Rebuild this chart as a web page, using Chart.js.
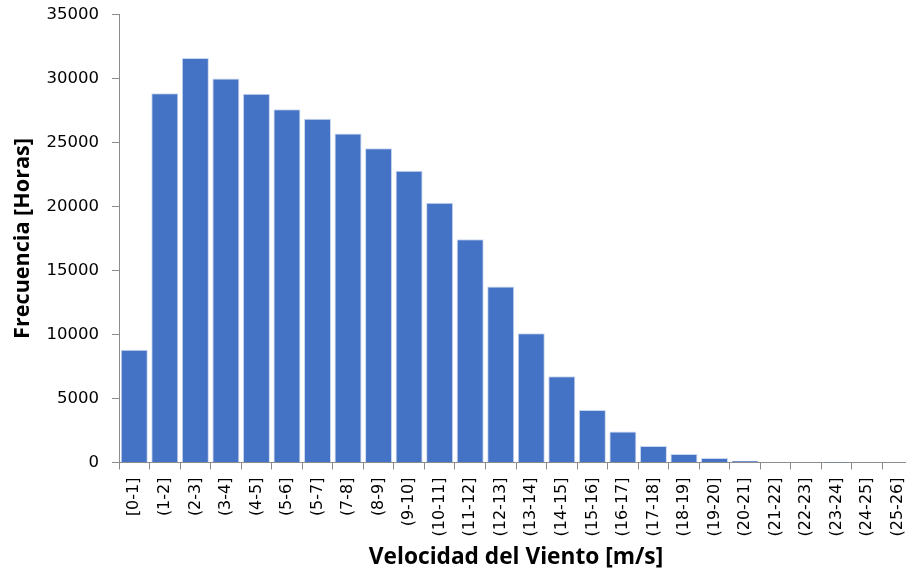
<!DOCTYPE html>
<html>
<head>
<meta charset="utf-8">
<script src="https://cdn.jsdelivr.net/npm/chart.js@4"></script>
<style>
html,body{margin:0;padding:0;background:#fff;overflow:hidden;width:906px;height:573px;}
#wrap{position:absolute;left:0;top:0;width:930px;height:573px;}
</style>
</head>
<body>
<div id="wrap"><canvas id="c" width="930" height="573"></canvas></div>
<script>
const categories = ["[0-1]","(1-2]","(2-3]","(3-4]","(4-5]","(5-6]","(5-7]","(7-8]","(8-9]","(9-10]","(10-11]","(11-12]","(12-13]","(13-14]","(14-15]","(15-16]","(16-17]","(17-18]","(18-19]","(19-20]","(20-21]","(21-22]","(22-23]","(23-24]","(24-25]","(25-26]"];
const frecuencia = [8800,28850,31600,30000,28800,27600,26850,25700,24550,22800,20300,17450,13750,10100,6730,4100,2430,1290,660,350,140,30,10,5,0,0];
const yTicks = [0,5000,10000,15000,20000,25000,30000,35000];
const xTitle = "Velocidad del Viento [m/s]";
const yTitle = "Frecuencia [Horas]";

const yTickFont = {family: "'DejaVu Sans', sans-serif", size: 16.5};
const xTickFont = {family: "'DejaVu Sans', sans-serif", size: 16};
const xTitleFont = {family: "'Open Sans', sans-serif", size: 22.7, weight: 'bold'};
const yTitleFont = {family: "'Open Sans', sans-serif", size: 21.6, weight: 'bold'};
const axisColor = '#8c8c8c';

new Chart(document.getElementById('c'), {
  type: 'bar',
  data: {
    labels: categories,
    datasets: [{
      data: frecuencia,
      backgroundColor: '#4472C4',
      borderColor: 'rgba(190,205,235,0.8)',
      borderWidth: {top:1,left:1,right:1,bottom:0},
      categoryPercentage: 1.0,
      barPercentage: 0.885
    }]
  },
  options: {
    responsive: false,
    animation: false,
    devicePixelRatio: 1,
    layout: {padding: {top: 14.5, right: 17, left: 0, bottom: 0}},
    plugins: {legend: {display: false}, tooltip: {enabled: false}},
    scales: {
      x: {
        grid: {display: true, drawOnChartArea: false, drawTicks: true, tickLength: 7, color: axisColor, offset: true},
        border: {display: true, color: axisColor, width: 1},
        ticks: {font: xTickFont, color: '#000', minRotation: 90, maxRotation: 90, autoSkip: false, padding: 8},
        title: {display: true, text: xTitle, font: xTitleFont, color: '#000', padding: {top: 0, bottom: 2}},
        afterFit: s => { s.height = 110.5; }
      },
      y: {
        min: 0, max: 35000,
        afterBuildTicks: s => { s.ticks = yTicks.map(v => ({value: v})); },
        grid: {display: true, drawOnChartArea: false, drawTicks: true, tickLength: 7, color: axisColor},
        border: {display: true, color: axisColor, width: 1},
        ticks: {font: yTickFont, color: '#000', padding: 13, callback: v => String(v)},
        title: {display: true, text: yTitle, font: yTitleFont, color: '#000', padding: {top: 10, bottom: 0}},
        afterFit: s => { s.width = 119; s.paddingTop = 0; s.paddingBottom = 0; }
      }
    }
  }
});
</script>
</body>
</html>
